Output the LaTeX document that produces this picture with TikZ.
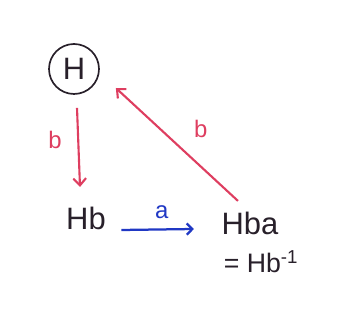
\documentclass[tikz,border=0pt]{standalone}
\usepackage{fontspec}
\setmainfont{Liberation Sans}
\usepackage{xcolor}
\usetikzlibrary{arrows.meta}

\definecolor{penred}{RGB}{222,62,96}
\definecolor{penblue}{RGB}{32,56,196}
\definecolor{penink}{RGB}{40,32,42}

\begin{document}
\begin{tikzpicture}[
  every node/.style={text=penink, inner sep=1pt},
  word/.style={font=\fontsize{22}{26}\selectfont},
  lbl/.style={font=\fontsize{17}{20}\selectfont},
  redarrow/.style={draw=penred, line width=1.5pt, -{Straight Barb[length=5pt,width=9pt]}},
  bluearrow/.style={draw=penblue, line width=1.6pt, -{Straight Barb[length=4pt,width=8pt]}},
]

\useasboundingbox (0,0) rectangle (8.65,8.025);

\node[word, draw=penink, circle, line width=1.2pt, minimum size=1.25cm, inner sep=0pt] (H) at (1.85,6.3) {H};

\node[word] (Hb) at (2.15,2.575) {Hb};
\node[word] (Hba) at (6.25,2.45) {Hba};
\node[word, font=\fontsize{19}{22}\selectfont] (eq) at (6.525,1.475) {= Hb\textsuperscript{-1}};

\draw[redarrow] ([xshift=0.075cm,yshift=-0.325cm]H.south) -- ([xshift=-0.15cm,yshift=0.45cm]Hb.north)
  node[lbl, text=penred, pos=0.4, left=0.35cm] {b};
\draw[bluearrow] ([xshift=0.35cm,yshift=-0.3cm]Hb.east) -- ([xshift=-0.65cm,yshift=-0.15cm]Hba.west)
  node[lbl, text=penblue, midway, above=0.2cm, xshift=0.1cm] {a};
\draw[redarrow] ([xshift=-0.3cm,yshift=0.225cm]Hba.north) -- ([xshift=0.4cm,yshift=-0.475cm]H.east)
  node[lbl, text=penred, pos=0.42, xshift=0.35cm, yshift=0.62cm] {b};

\end{tikzpicture}
\end{document}
